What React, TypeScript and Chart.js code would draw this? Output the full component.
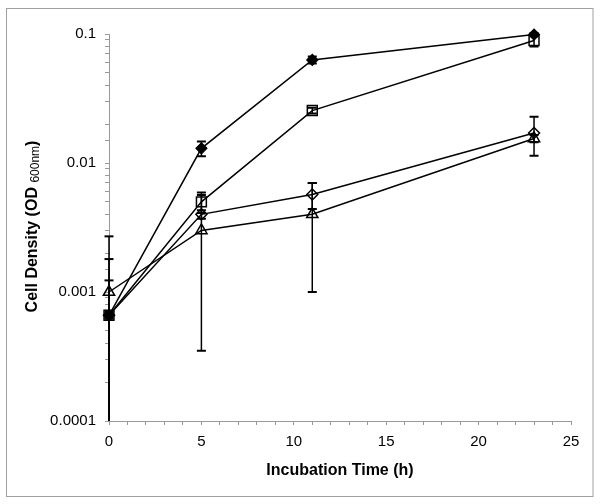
import React, { useEffect, useRef } from "react";
import { Chart, registerables } from "chart.js";

Chart.register(...registerables);

const times = [0, 5, 11, 23];

const seriesFilledDiamond = [0.00066, 0.013, 0.063, 0.099];
const errFilledDiamond = [0.00004, 0.0017, 0.004, 0.003];

const seriesSquare = [0.00066, 0.005, 0.0255, 0.089];
const errSquare = [0.00057, 0.0009, 0.0013, 0.009];

const seriesOpenDiamond = [0.00066, 0.004, 0.0057, 0.0171];
const errOpenDiamond = [0.00114, 0.0003, 0.0013, 0.0057];

const seriesTriangle = [0.001, 0.003, 0.004, 0.0155];
const errTriangle = [0.0017, 0.00265, 0.003, 0.001];

const yTickLabels = ["0.0001", "0.001", "0.01", "0.1"];
const xTickLabels = ["0", "5", "10", "15", "20", "25"];

const xTitle = "Incubation Time (h)";
const yTitleMain = "Cell Density (OD ";
const yTitleSub = "600nm";
const yTitleEnd = ")";

const FONT = "'Liberation Sans', Arial, sans-serif";

export default function App() {
  const ref = useRef<HTMLCanvasElement>(null);

  useEffect(() => {
    if (!ref.current) return;

    const errorSets = [errFilledDiamond, errSquare, errOpenDiamond, errTriangle];

    const bgPlugin = {
      id: "bgBorder",
      beforeDraw(chart: any) {
        const ctx = chart.ctx;
        ctx.save();
        ctx.fillStyle = "#ffffff";
        ctx.fillRect(0, 0, chart.width, chart.height);
        ctx.strokeStyle = "#a0a0a0";
        ctx.lineWidth = 1;
        ctx.strokeRect(6.5, 8.5, 586.5, 488);
        ctx.restore();
      },
    };

    const errorPlugin = {
      id: "errorBars",
      afterDatasetsDraw(chart: any) {
        const ctx = chart.ctx;
        const xs = chart.scales.x;
        const ys = chart.scales.y;
        const area = chart.chartArea;
        ctx.save();
        ctx.strokeStyle = "#000";
        chart.data.datasets.forEach((ds: any, i: number) => {
          const errs = errorSets[i];
          ds.data.forEach((pt: any, j: number) => {
            const e = errs[j];
            if (!e) return;
            const px = xs.getPixelForValue(pt.x);
            const hi = pt.y + e;
            const lo = pt.y - e;
            const pyHi = ys.getPixelForValue(hi);
            let pyLo: number;
            let capLo = true;
            if (lo <= ys.min) {
              pyLo = area.bottom;
              capLo = false;
            } else {
              pyLo = ys.getPixelForValue(lo);
            }
            ctx.lineWidth = 1.5;
            ctx.beginPath();
            ctx.moveTo(px, pyHi);
            ctx.lineTo(px, pyLo);
            ctx.stroke();
            ctx.lineWidth = 2;
            ctx.beginPath();
            ctx.moveTo(px - 4.5, pyHi);
            ctx.lineTo(px + 4.5, pyHi);
            if (capLo) {
              ctx.moveTo(px - 4.5, pyLo);
              ctx.lineTo(px + 4.5, pyLo);
            }
            ctx.stroke();
          });
        });
        ctx.restore();
      },
    };

    const titlePlugin = {
      id: "axisTitles",
      afterDraw(chart: any) {
        const ctx = chart.ctx;
        const area = chart.chartArea;
        ctx.save();
        ctx.fillStyle = "#000";
        ctx.textBaseline = "middle";
        ctx.textAlign = "center";
        ctx.font = `bold 16px ${FONT}`;
        ctx.fillText(xTitle, (area.left + area.right) / 2, 471);

        // Y title, rotated
        const boldFont = `bold 16px ${FONT}`;
        const subFont = `12px ${FONT}`;
        ctx.font = boldFont;
        const w1 = ctx.measureText(yTitleMain).width;
        const w3 = ctx.measureText(yTitleEnd).width;
        ctx.font = subFont;
        const w2 = ctx.measureText(yTitleSub).width;
        const total = w1 + w2 + w3;
        const cy = (area.top + area.bottom) / 2 - 1;
        ctx.translate(31, cy);
        ctx.rotate(-Math.PI / 2);
        ctx.textAlign = "left";
        ctx.textBaseline = "alphabetic";
        let x0 = -total / 2;
        ctx.font = boldFont;
        ctx.fillText(yTitleMain, x0, 6);
        x0 += w1;
        ctx.font = subFont;
        ctx.fillText(yTitleSub, x0, 8);
        x0 += w2;
        ctx.font = boldFont;
        ctx.fillText(yTitleEnd, x0, 6);
        ctx.restore();
      },
    };

    const mk = (data: number[]) => data.map((v, i) => ({ x: times[i], y: v }));

    const chart = new Chart(ref.current, {
      type: "line",
      data: {
        datasets: [
          {
            data: mk(seriesFilledDiamond),
            borderColor: "#000",
            borderWidth: 1.5,
            pointStyle: "rectRot",
            pointRadius: 5.5,
            pointBackgroundColor: "#000",
            pointBorderColor: "#000",
            pointBorderWidth: 1.2,
            clip: false,
          },
          {
            data: mk(seriesSquare),
            borderColor: "#000",
            borderWidth: 1.5,
            pointStyle: "rect",
            pointRadius: 7,
            pointBackgroundColor: "rgba(0,0,0,0)",
            pointBorderColor: "#000",
            pointBorderWidth: 1.5,
            clip: false,
          },
          {
            data: mk(seriesOpenDiamond),
            borderColor: "#000",
            borderWidth: 1.5,
            pointStyle: "rectRot",
            pointRadius: 5.5,
            pointBackgroundColor: "rgba(0,0,0,0)",
            pointBorderColor: "#000",
            pointBorderWidth: 1.5,
            clip: false,
          },
          {
            data: mk(seriesTriangle),
            borderColor: "#000",
            borderWidth: 1.5,
            pointStyle: "triangle",
            pointRadius: 6.5,
            pointBackgroundColor: "rgba(0,0,0,0)",
            pointBorderColor: "#000",
            pointBorderWidth: 1.5,
            clip: false,
          },
        ],
      },
      options: {
        animation: false,
        responsive: true,
        maintainAspectRatio: false,
        layout: { padding: { left: 0, right: 29, top: 34, bottom: 0 } },
        plugins: {
          legend: { display: false },
          tooltip: { enabled: false },
        },
        scales: {
          x: {
            type: "linear",
            min: 0,
            max: 25,
            afterFit(scale: any) {
              scale.height = 83;
            },
            border: { display: true, color: "#999", width: 1 },
            grid: {
              display: true,
              drawOnChartArea: false,
              drawTicks: true,
              tickLength: 4,
              color: "#999",
            },
            ticks: {
              stepSize: 1,
              autoSkip: false,
              maxRotation: 0,
              padding: 8,
              color: "#000",
              font: { family: FONT, size: 15 },
              callback: (v: any) => {
                const n = Number(v);
                if (n % 5 === 0) return xTickLabels[n / 5];
                return "";
              },
            },
          },
          y: {
            type: "logarithmic",
            min: 0.0001,
            max: 0.1,
            afterFit(scale: any) {
              scale.width = 109;
            },
            border: { display: true, color: "#999", width: 1 },
            grid: {
              display: true,
              drawOnChartArea: false,
              drawTicks: true,
              tickLength: 4,
              color: "#999",
            },
            ticks: {
              autoSkip: false,
              padding: 9,
              color: "#000",
              font: { family: FONT, size: 15 },
              callback: (v: any) => {
                const l = Math.log10(Number(v));
                if (Math.abs(l - Math.round(l)) < 1e-6) {
                  return yTickLabels[Math.round(l) + 4];
                }
                return "";
              },
            },
          },
        },
      },
      plugins: [bgPlugin, errorPlugin, titlePlugin],
    });

    return () => chart.destroy();
  }, []);

  return (
    <div style={{ position: "absolute", left: 0, top: 0, width: 600, height: 504 }}>
      <canvas ref={ref} />
    </div>
  );
}
